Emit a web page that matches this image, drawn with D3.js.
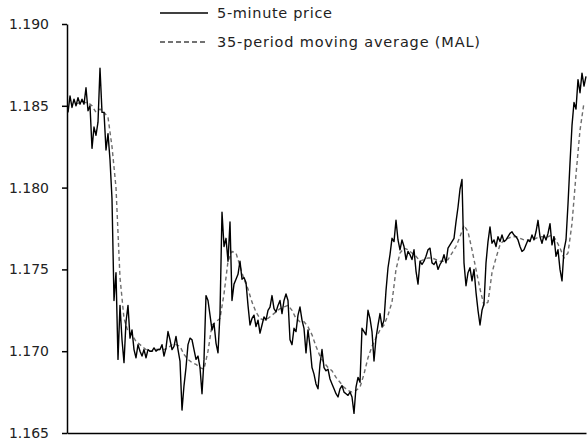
<!DOCTYPE html>
<html lang="en">
<head>
  <meta charset="UTF-8">
  <title>5-minute price and moving average</title>
  <script src="https://d3js.org/d3.v7.min.js"></script>
  <style>
    body { margin: 0; background: #fff; }
    svg { display: block; }
    text { font-family: "DejaVu Sans", sans-serif; fill: #222; }
  </style>
</head>
<body>
  <div id="chart"></div>

  <script>
    // 5-minute price (evenly spaced bars)
    const price = [
      1.1846, 1.1856, 1.1849, 1.1854, 1.1850, 1.1855, 1.1851, 1.1854, 1.1851, 1.1861,
      1.1847, 1.1850, 1.1824, 1.1837, 1.1832, 1.1840, 1.1873, 1.1846, 1.1846, 1.1823,
      1.1833, 1.1817, 1.1793, 1.1731, 1.1748, 1.1695, 1.1728, 1.1707, 1.1693, 1.1718,
      1.1728, 1.1708, 1.1713, 1.1701, 1.1696, 1.1704, 1.1700, 1.1697, 1.1701, 1.1696,
      1.1701, 1.1700, 1.1700, 1.1702, 1.1700, 1.1701,
      1.1701, 1.1704, 1.1697, 1.1702, 1.1712, 1.1707, 1.1701, 1.1703, 1.1709, 1.1701,
      1.1694, 1.1664, 1.1679, 1.1690, 1.1704, 1.1708, 1.1707, 1.1701, 1.1695, 1.1697,
      1.1690, 1.1674, 1.1695, 1.1734, 1.1731, 1.1722, 1.1713, 1.1717, 1.1705, 1.1699,
      1.1723, 1.1785, 1.1764, 1.1769, 1.1755, 1.1779, 1.1731, 1.1741, 1.1744, 1.1747,
      1.1755, 1.1744, 1.1745, 1.1742, 1.1728, 1.1716, 1.1720, 1.1722,
      1.1715, 1.1719, 1.1711, 1.1716, 1.1721, 1.1719, 1.1725, 1.1727, 1.1734, 1.1726,
      1.1724, 1.1728, 1.1731, 1.1723, 1.1731, 1.1735, 1.1731, 1.1707, 1.1704, 1.1714,
      1.1712, 1.1722, 1.1727, 1.1719, 1.1714, 1.1699, 1.1713, 1.1703, 1.1690, 1.1686,
      1.1680, 1.1677, 1.1692, 1.1701, 1.1690, 1.1688, 1.1689, 1.1683, 1.1680, 1.1677,
      1.1674, 1.1672, 1.1677, 1.1679, 1.1675, 1.1674,
      1.1673, 1.1675, 1.1672, 1.1662, 1.1678, 1.1684, 1.1681, 1.1714, 1.1712, 1.1710,
      1.1725, 1.1720, 1.1712, 1.1694, 1.1708, 1.1716, 1.1723, 1.1715, 1.1719, 1.1737,
      1.1751, 1.1759, 1.1769, 1.1767, 1.1780, 1.1768, 1.1762, 1.1768, 1.1764, 1.1756,
      1.1761, 1.1759, 1.1756, 1.1762, 1.1749, 1.1741, 1.1755, 1.1753, 1.1755, 1.1758,
      1.1762, 1.1763, 1.1754, 1.1753, 1.1755, 1.1750, 1.1753, 1.1755, 1.1759, 1.1754,
      1.1763, 1.1765, 1.1767, 1.1769, 1.1779, 1.1788, 1.1799, 1.1805, 1.1754, 1.1740,
      1.1748, 1.1751, 1.1743, 1.1750, 1.1736, 1.1725, 1.1716, 1.1725, 1.1729, 1.1754,
      1.1767, 1.1776, 1.1766, 1.1768, 1.1764, 1.1770, 1.1767, 1.1771, 1.1767, 1.1768,
      1.1770, 1.1772, 1.1773, 1.1771, 1.1770, 1.1768, 1.1764, 1.1761,
      1.1762, 1.1765, 1.1768, 1.1767, 1.1771, 1.1768, 1.1773, 1.1780,
      1.1770, 1.1766, 1.1771, 1.1768, 1.1772, 1.1778, 1.1765, 1.1770, 1.1758, 1.1762,
      1.1750, 1.1743, 1.1762, 1.1768, 1.1790, 1.1815, 1.1838, 1.1852, 1.1848, 1.1866,
      1.1858, 1.1870, 1.1862, 1.1868
    ];

    // 35-period moving average (every 2nd bar, from bar 4)
    const malStart = 4;
    const malStep = 2;
    const mal = [
      1.1851, 1.1852, 1.1852, 1.1852, 1.1850, 1.1846, 1.1848, 1.1846, 1.1843, 1.1825,
      1.1800, 1.1745, 1.1720, 1.1712, 1.1710, 1.1706, 1.1704, 1.1702, 1.1700, 1.1700,
      1.1701, 1.1701, 1.1701, 1.1702, 1.1704, 1.1704, 1.1703, 1.1698, 1.1695, 1.1693,
      1.1692, 1.1690, 1.1689, 1.1700, 1.1716, 1.1718, 1.1720, 1.1735, 1.1755, 1.1761,
      1.1760, 1.1752, 1.1744, 1.1738, 1.1730, 1.1724, 1.1720, 1.1719, 1.1720, 1.1722,
      1.1724, 1.1726, 1.1727, 1.1728, 1.1725, 1.1720, 1.1718, 1.1718, 1.1715, 1.1710,
      1.1703, 1.1697, 1.1693, 1.1690, 1.1688, 1.1684, 1.1681, 1.1678, 1.1676, 1.1675,
      1.1676, 1.1678, 1.1686, 1.1696, 1.1703, 1.1708, 1.1713, 1.1716, 1.1722, 1.1730,
      1.1750, 1.1760, 1.1763, 1.1762, 1.1760, 1.1758, 1.1755, 1.1756, 1.1757, 1.1757,
      1.1756, 1.1755, 1.1755, 1.1756, 1.1760, 1.1764, 1.1770, 1.1777, 1.1773, 1.1762,
      1.1750, 1.1738, 1.1728, 1.1730, 1.1748, 1.1757, 1.1765, 1.1768, 1.1769, 1.1770,
      1.1770, 1.1769, 1.1768, 1.1768, 1.1768, 1.1769, 1.1770, 1.1770, 1.1770, 1.1771,
      1.1768, 1.1763, 1.1757, 1.1760, 1.1778, 1.1808, 1.1835, 1.1852
    ];

    const yTicks = [1.165, 1.170, 1.175, 1.180, 1.185, 1.190];
    const legendLabels = ["5-minute price", "35-period moving average (MAL)"];

    const width = 588;
    const height = 443;
    const axisX = 67;     // y axis position
    const plotTop = 24;
    const plotBottom = 433;

    const svg = d3.select("#chart")
      .append("svg")
      .attr("width", width)
      .attr("height", height);

    const x = d3.scaleLinear()
      .domain([0, price.length - 1])
      .range([68, 586]);

    const y = d3.scaleLinear()
      .domain([1.165, 1.190])
      .range([plotBottom, plotTop]);

    // moving average first, price drawn on top
    const malLine = d3.line()
      .x((d, j) => x(malStart + j * malStep))
      .y(d => y(d));

    svg.append("path")
      .datum(mal)
      .attr("fill", "none")
      .attr("stroke", "#6e6e6e")
      .attr("stroke-width", 1.4)
      .attr("stroke-dasharray", "4,3")
      .attr("d", malLine);

    const priceLine = d3.line()
      .x((d, i) => x(i))
      .y(d => y(d));

    svg.append("path")
      .datum(price)
      .attr("fill", "none")
      .attr("stroke", "#000")
      .attr("stroke-width", 1.4)
      .attr("stroke-linejoin", "round")
      .attr("d", priceLine);

    // y axis
    const yAxis = svg.append("g")
      .attr("transform", `translate(${axisX},0)`)
      .call(d3.axisLeft(y)
        .tickValues(yTicks)
        .tickFormat(d3.format(".3f"))
        .tickSize(5)
        .tickSizeOuter(0)
        .tickPadding(13));

    yAxis.select(".domain").attr("stroke", "#000").attr("stroke-width", 1.5);
    yAxis.selectAll(".tick line").attr("stroke", "#000").attr("stroke-width", 1.5);
    yAxis.selectAll(".tick text")
      .attr("font-size", 14)
      .attr("font-family", "'DejaVu Sans', sans-serif")
      .attr("fill", "#222");

    // x axis: plain line, no ticks
    const xAxis = svg.append("g")
      .attr("transform", `translate(0,${plotBottom})`)
      .call(d3.axisBottom(d3.scaleLinear().range([axisX, 586]))
        .tickValues([])
        .tickSizeOuter(0));

    xAxis.select(".domain").attr("stroke", "#000").attr("stroke-width", 1.5);

    // legend
    const legend = svg.append("g");
    const rows = [
      { y: 13, dash: null, color: "#000", len: 115 },
      { y: 42, dash: "5,3", color: "#444", len: 263 }
    ];

    rows.forEach((r, k) => {
      legend.append("line")
        .attr("x1", 160)
        .attr("x2", 208)
        .attr("y1", r.y)
        .attr("y2", r.y)
        .attr("stroke", r.color)
        .attr("stroke-width", 1.4)
        .attr("stroke-dasharray", r.dash);

      legend.append("text")
        .attr("x", 217)
        .attr("y", r.y + 5)
        .attr("font-size", 14.5)
        .attr("textLength", r.len)
        .attr("lengthAdjust", "spacing")
        .text(legendLabels[k]);
    });
  </script>
</body>
</html>
